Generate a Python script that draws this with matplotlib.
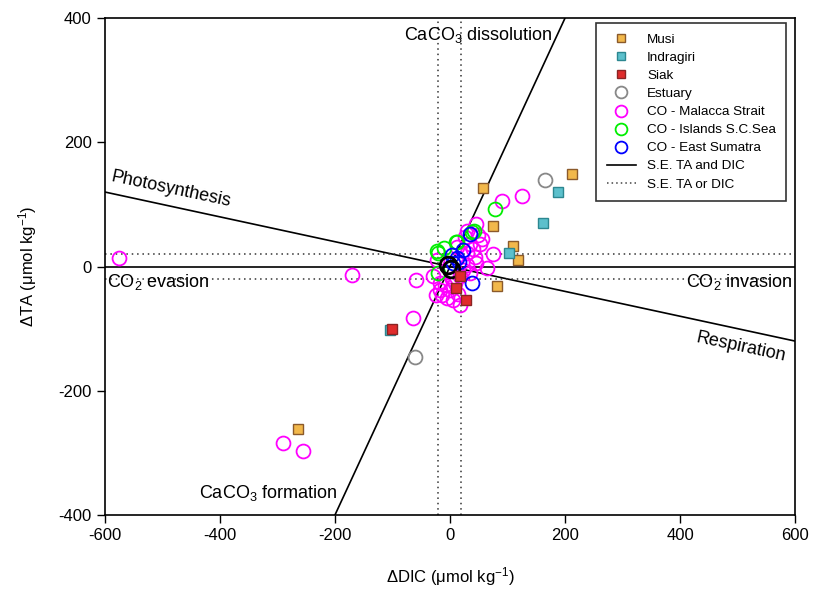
import numpy as np
import matplotlib
matplotlib.use("Agg")
import matplotlib.pyplot as plt
from matplotlib.lines import Line2D

plt.rcParams['font.family'] = ['Liberation Sans', 'DejaVu Sans']
plt.rcParams['mathtext.fontset'] = 'custom'
plt.rcParams['mathtext.rm'] = 'Liberation Sans'
plt.rcParams['mathtext.it'] = 'Liberation Sans:italic'
plt.rcParams['axes.unicode_minus'] = False

# river end-members (dDIC, dTA)
musi_dic = [-264, 57, 212, 74, 110, 119, 81]
musi_ta = [-262, 127, 149, 66, 33, 10, -31]
indragiri_dic = [188, 162, 103, -104]
indragiri_ta = [120, 70, 22, -102]
siak_dic = [-101, 17, 10, 28]
siak_ta = [-100, -16, -34, -54]
estuary_dic = [165, -61]
estuary_ta = [140, -145]

# coastal ocean stations
malacca_dic = [-575, -170, -59, -64, -291, -255, 125, 91, 46, 75, 64,
               49, 52, 35, 43, 29, 35, -17, -14, -6, 6, 17, -17, 0, 9,
               17, -29, -23, 26, 29, 12, 40, 22, -8, 3, 30, 55, -25, 14, 45]
malacca_ta = [13, -13, -22, -83, -284, -297, 113, 105, 69, 20, -3,
              51, 37, 37, 16, 2, -11, -27, -46, -51, -54, -62, -38, -38, -27,
              -16, -16, 10, 48, 58, 32, 28, -5, -30, -20, 22, 45, -45, -44, 5]
islands_dic = [78, 42, 10, -20, -20, -22, 12, 38, -10]
islands_ta = [93, 58, 40, -11, 22, 25, 40, 56, 30]
sumatra_dic = [35, 23, 3, 6, 12, 38, 15]
sumatra_ta = [52, 27, 19, 5, 13, -27, 8]
center_dic = [-3, 1]
center_ta = [2, -4]

fig = plt.figure(figsize=(8.13, 5.93), dpi=100)
ax = fig.add_axes([0.129, 0.1315, 0.849, 0.838])

xx = np.array([-600, 600])
ax.axhline(0, color='black', lw=1.2, zorder=1)
ax.plot(xx, 2 * xx, color='black', lw=1.2, zorder=1)
ax.plot(xx, -0.2 * xx, color='black', lw=1.2, zorder=1)
for v in (-20, 20):
    ax.axhline(v, color='#333333', ls=(0, (1, 2.5)), lw=1.1, zorder=1)
    ax.axvline(v, color='#333333', ls=(0, (1, 2.5)), lw=1.1, zorder=1)

circ = dict(marker='o', ms=10, mfc='none', mew=1.3, ls='none')
ax.plot(malacca_dic, malacca_ta, mec='#ff00ff', label='CO - Malacca Strait', zorder=3, **circ)
ax.plot(islands_dic, islands_ta, mec='#00ee00', label='CO - Islands S.C.Sea', zorder=3, **circ)
ax.plot(sumatra_dic, sumatra_ta, mec='#0000ff', label='CO - East Sumatra', zorder=4, **circ)
ax.plot(center_dic, center_ta, marker='o', ms=12, mfc='none', mew=2, mec='black', ls='none', zorder=4)
ax.plot(estuary_dic, estuary_ta, mec='#888888', label='Estuary', zorder=3, **circ)

sq = dict(marker='s', ms=6.5, mew=1, ls='none', zorder=5)
ax.plot(musi_dic, musi_ta, mfc='#f2b84b', mec='#8b5a2b', label='Musi', **sq)
ax.plot(indragiri_dic, indragiri_ta, mfc='#5cc0cc', mec='#2c8790', label='Indragiri', **sq)
ax.plot(siak_dic, siak_ta, mfc='#e02c2c', mec='#8a2424', label='Siak', **sq)

fs = 13
ax.text(178, 373, 'CaCO$_3$ dissolution', ha='right', va='center', fontsize=fs)
ax.text(-485, 124, 'Photosynthesis', ha='center', va='center', rotation=-12, fontsize=fs)
ax.text(-597, -25, 'CO$_2$ evasion', ha='left', va='center', fontsize=fs)
ax.text(596, -25, 'CO$_2$ invasion', ha='right', va='center', fontsize=fs)
ax.text(505, -130, 'Respiration', ha='center', va='center', rotation=-12, fontsize=fs)
ax.text(-196, -365, 'CaCO$_3$ formation', ha='right', va='center', fontsize=fs)

ax.set_xlim(-600, 600)
ax.set_ylim(-400, 400)
ax.set_xticks(np.arange(-600, 601, 200))
ax.set_yticks(np.arange(-400, 401, 200))
ax.tick_params(labelsize=12, length=6, width=1)
ax.set_xlabel('$\\Delta$DIC (\u03bcmol kg$^{-1}$)', fontsize=12, labelpad=16)
ax.set_ylabel('$\\Delta$TA (\u03bcmol kg$^{-1}$)', fontsize=12, labelpad=14)
for s in ax.spines.values():
    s.set_linewidth(1.2)

h, l = ax.get_legend_handles_labels()
order = ['Musi', 'Indragiri', 'Siak', 'Estuary', 'CO - Malacca Strait',
         'CO - Islands S.C.Sea', 'CO - East Sumatra']
handles = [h[l.index(n)] for n in order]
handles += [Line2D([], [], color='black', lw=1.2),
            Line2D([], [], color='#444444', ls=(0, (1, 2)), lw=1.1)]
labels = order + ['S.E. TA and DIC', 'S.E. TA or DIC']
leg = ax.legend(handles, labels, loc='upper right', bbox_to_anchor=(0.9965, 1.003),
                fontsize=9.7, frameon=True, fancybox=False, edgecolor='black',
                handlelength=2.2, labelspacing=0.42, borderpad=0.75, markerscale=0.85)
leg.get_frame().set_linewidth(1.2)

fig.savefig('out.png', dpi=100)
